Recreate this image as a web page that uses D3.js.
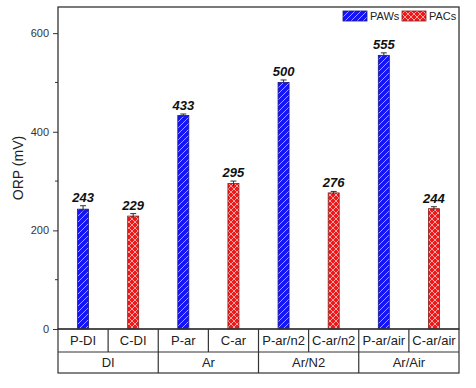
<!DOCTYPE html>
<html>
<head>
<meta charset="utf-8">
<script src="https://cdn.jsdelivr.net/npm/d3@7"></script>
<style>
  body { margin: 0; background: #fff; }
  svg { font-family: "Liberation Sans", Arial, sans-serif; }
</style>
</head>
<body>
<div id="vis"></div>
<script>
// data
var samples = ['P-DI', 'C-DI', 'P-ar', 'C-ar', 'P-ar/n2', 'C-ar/n2', 'P-ar/air', 'C-ar/air'];
var groups = ['DI', 'Ar', 'Ar/N2', 'Ar/Air'];
var kinds = ['PAWs', 'PACs', 'PAWs', 'PACs', 'PAWs', 'PACs', 'PAWs', 'PACs'];
var orp = [243, 229, 433, 295, 500, 276, 555, 244];
var err = [7, 5, 3, 5, 5, 3, 5, 4];
var yTicks = [0, 200, 400, 600];
var yMinor = [100, 300, 500];

var width = 476, height = 388;
// plot box edges (window.top is reserved, so use other names)
var pLeft = 58, pRight = 459, pTop = 7, pBottom = 329;
var row1 = 352, row2 = 373;

var svg = d3.select('#vis').append('svg')
  .attr('width', width)
  .attr('height', height);

// hatch patterns
var defs = svg.append('defs');
var pBlue = defs.append('pattern')
  .attr('id', 'paw').attr('patternUnits', 'userSpaceOnUse')
  .attr('width', 6).attr('height', 6);
pBlue.append('rect').attr('width', 6).attr('height', 6).attr('fill', '#1515f5');
pBlue.append('path').attr('d', 'M-1,7 L7,-1 M-2,2 L2,-2 M4,8 L8,4')
  .attr('stroke', '#a8b4ff').attr('stroke-width', 0.9);

var pRed = defs.append('pattern')
  .attr('id', 'pac').attr('patternUnits', 'userSpaceOnUse')
  .attr('width', 6).attr('height', 6);
pRed.append('rect').attr('width', 6).attr('height', 6).attr('fill', '#f01818');
pRed.append('path').attr('d', 'M0,3 L3,0 L6,3 L3,6 Z')
  .attr('fill', 'none').attr('stroke', '#ffc8c8').attr('stroke-width', 0.8);

var fills = { PAWs: 'url(#paw)', PACs: 'url(#pac)' };
var strokes = { PAWs: '#1a1a80', PACs: '#802020' };

var x = d3.scaleBand().domain(samples).range([pLeft, pRight]);
var xg = d3.scaleBand().domain(groups).range([pLeft, pRight]);
var y = d3.scaleLinear().domain([0, 653]).range([pBottom, pTop]);

// y axis
var yAxis = svg.append('g')
  .attr('transform', 'translate(' + pLeft + ',0)')
  .call(d3.axisLeft(y).tickValues(yTicks).tickSize(5).tickPadding(4));
yAxis.select('.domain').remove();
yAxis.selectAll('text').attr('font-size', 11).attr('fill', '#333');
yAxis.selectAll('line').attr('stroke', '#333');

svg.append('g').selectAll('line')
  .data(yMinor).enter().append('line')
  .attr('x1', pLeft - 3).attr('x2', pLeft)
  .attr('y1', function(d) { return y(d); })
  .attr('y2', function(d) { return y(d); })
  .attr('stroke', '#333');

svg.append('text')
  .attr('transform', 'translate(23,' + ((pTop + pBottom) / 2) + ') rotate(-90)')
  .attr('text-anchor', 'middle')
  .attr('font-size', 14)
  .attr('fill', '#222')
  .text('ORP (mV)');

// bars
var barW = 11;
var data = samples.map(function(s, i) {
  return { name: s, kind: kinds[i], value: orp[i], err: err[i] };
});

svg.append('g').selectAll('rect')
  .data(data).enter().append('rect')
  .attr('x', function(d) { return x(d.name) + x.bandwidth() / 2 - barW / 2; })
  .attr('y', function(d) { return y(d.value); })
  .attr('width', barW)
  .attr('height', function(d) { return y(0) - y(d.value); })
  .attr('fill', function(d) { return fills[d.kind]; })
  .attr('stroke', function(d) { return strokes[d.kind]; })
  .attr('stroke-width', 0.8);

// error bars
var eb = svg.append('g').selectAll('g')
  .data(data).enter().append('g')
  .attr('stroke', '#333').attr('stroke-width', 1);
eb.append('line')
  .attr('x1', function(d) { return x(d.name) + x.bandwidth() / 2; })
  .attr('x2', function(d) { return x(d.name) + x.bandwidth() / 2; })
  .attr('y1', function(d) { return y(d.value - d.err); })
  .attr('y2', function(d) { return y(d.value + d.err); });
eb.append('line')
  .attr('x1', function(d) { return x(d.name) + x.bandwidth() / 2 - 3; })
  .attr('x2', function(d) { return x(d.name) + x.bandwidth() / 2 + 3; })
  .attr('y1', function(d) { return y(d.value + d.err); })
  .attr('y2', function(d) { return y(d.value + d.err); });

// value labels
svg.append('g').selectAll('text')
  .data(data).enter().append('text')
  .attr('x', function(d) { return x(d.name) + x.bandwidth() / 2; })
  .attr('y', function(d) { return y(d.value + d.err) - 4; })
  .attr('text-anchor', 'middle')
  .attr('font-size', 13)
  .attr('font-weight', 'bold')
  .attr('font-style', 'italic')
  .attr('fill', '#111')
  .text(function(d) { return d.value; });

// frame
svg.append('rect')
  .attr('x', pLeft).attr('y', pTop)
  .attr('width', pRight - pLeft).attr('height', pBottom - pTop)
  .attr('fill', 'none').attr('stroke', '#333').attr('stroke-width', 1.3);

// category table below
var tbl = svg.append('g').attr('stroke', '#333').attr('stroke-width', 1.2);
tbl.append('rect')
  .attr('x', pLeft).attr('y', pBottom)
  .attr('width', pRight - pLeft).attr('height', row2 - pBottom)
  .attr('fill', 'none');
tbl.append('line').attr('x1', pLeft).attr('x2', pRight).attr('y1', row1).attr('y2', row1);
tbl.selectAll('.sdiv')
  .data(samples.slice(1)).enter().append('line')
  .attr('x1', function(d) { return x(d); }).attr('x2', function(d) { return x(d); })
  .attr('y1', pBottom).attr('y2', row1);
tbl.selectAll('.gdiv')
  .data(groups.slice(1)).enter().append('line')
  .attr('x1', function(d) { return xg(d); }).attr('x2', function(d) { return xg(d); })
  .attr('y1', row1).attr('y2', row2);

svg.append('g').selectAll('text')
  .data(samples).enter().append('text')
  .attr('x', function(d) { return x(d) + x.bandwidth() / 2; })
  .attr('y', (pBottom + row1) / 2 + 4.5)
  .attr('text-anchor', 'middle')
  .attr('font-size', 13)
  .attr('fill', '#222')
  .text(function(d) { return d; });

svg.append('g').selectAll('text')
  .data(groups).enter().append('text')
  .attr('x', function(d) { return xg(d) + xg.bandwidth() / 2; })
  .attr('y', (row1 + row2) / 2 + 4.5)
  .attr('text-anchor', 'middle')
  .attr('font-size', 13)
  .attr('fill', '#222')
  .text(function(d) { return d; });

// legend
var legend = [{ kind: 'PAWs', x: 343 }, { kind: 'PACs', x: 402 }];
var lg = svg.append('g').selectAll('g')
  .data(legend).enter().append('g')
  .attr('transform', function(d) { return 'translate(' + d.x + ',11)'; });
lg.append('rect')
  .attr('width', 24).attr('height', 10)
  .attr('fill', function(d) { return fills[d.kind]; })
  .attr('stroke', function(d) { return strokes[d.kind]; })
  .attr('stroke-width', 0.8);
lg.append('text')
  .attr('x', 27).attr('y', 9)
  .attr('font-size', 11)
  .attr('fill', '#222')
  .text(function(d) { return d.kind; });
</script>
</body>
</html>
